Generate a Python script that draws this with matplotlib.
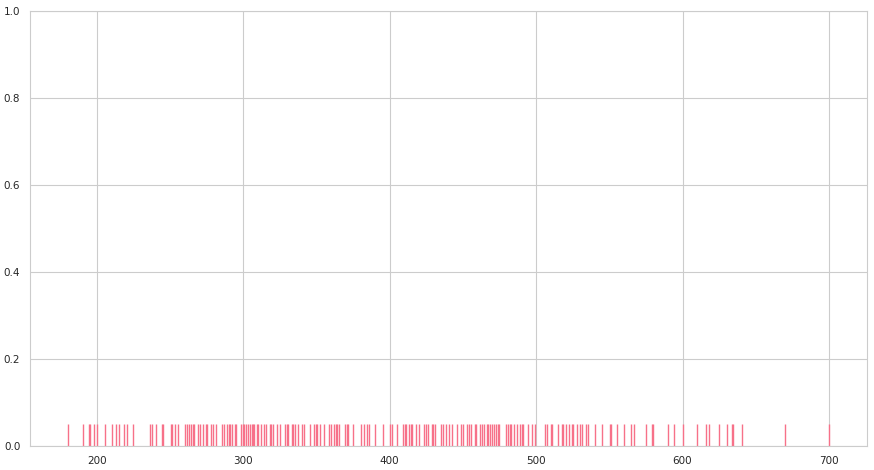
import matplotlib
matplotlib.use("Agg")
import matplotlib.pyplot as plt
import seaborn as sns

# valores (posiciones de la alfombra)
valores = [
    180.4, 190.6, 194.7, 195.4, 198.0, 200.2,
    205.5, 210.5, 213.0, 215.0, 218.6, 220.5, 224.8, 236.2, 237.6, 240.3,
    244.6, 245.3, 250.8, 251.4,
    253.3, 255.5, 260.1, 261.3, 263.0, 264.2, 265.4, 266.5, 269.2, 270.3,
    272.6, 274.4, 275.6, 278.3, 279.4, 281.3, 285.2, 286.7, 289.0, 290.2,
    291.3, 292.7, 294.3, 295.0, 298.8, 299.9,
    300.6, 302.2, 303.3, 304.5, 305.7, 306.8, 307.7, 309.1, 310.2, 312.5,
    314.1, 315.9, 318.2, 319.3, 320.4, 323.1, 325.0, 328.4, 329.6, 330.7,
    333.0, 334.1, 335.2, 337.5, 340.5, 341.6, 345.5, 348.2,
    349.6, 350.5, 352.3, 355.3, 358.7, 360.3, 361.9, 363.1, 363.8, 365.3,
    369.4, 370.6, 371.6, 375.1, 380.3, 382.6, 384.6, 385.8, 389.9, 395.5,
    400.1, 401.7, 405.1, 409.2, 410.4, 411.5, 413.3, 414.5, 415.4, 417.9,
    420.1, 423.5, 424.7, 425.9, 428.6, 429.7, 431.3, 435.4, 436.5, 438.8,
    440.6, 442.9,
    445.7, 448.4, 450.2, 452.5, 454.3, 455.9, 458.2, 459.3, 461.6, 462.8,
    464.5, 466.2, 467.3, 468.4, 470.0, 471.2, 472.3, 473.7, 474.8, 479.3,
    480.5, 482.1, 483.2, 485.0, 487.3, 488.9, 490.1,
    490.8, 494.6, 497.3, 499.2, 506.0, 507.6, 509.9, 510.6, 514.7, 517.4,
    518.5, 520.3, 522.6, 524.2, 525.3, 528.1, 529.9, 531.1, 534.0, 535.6,
    540.1, 545.1, 550.4, 551.5, 555.4, 560.2, 564.7, 566.8, 575.0, 579.3,
    580.0,
    590.2, 594.3, 600.4, 610.0, 615.7, 618.2, 625.0, 630.5, 633.5, 634.6,
    640.3, 670.0, 700.0,
]

sns.set_style("whitegrid")

fig = plt.figure(figsize=(8.74, 4.7), dpi=100)
ax = fig.add_axes([0.0343, 0.051, 0.9577, 0.9256])

sns.rugplot(x=valores, height=0.05, color="#f77189", ax=ax)

ax.set_ylim(0, 1)
ax.set_xticks([200, 300, 400, 500, 600, 700])
ax.tick_params(labelsize=7.5)

fig.savefig("out.png", dpi=100)
